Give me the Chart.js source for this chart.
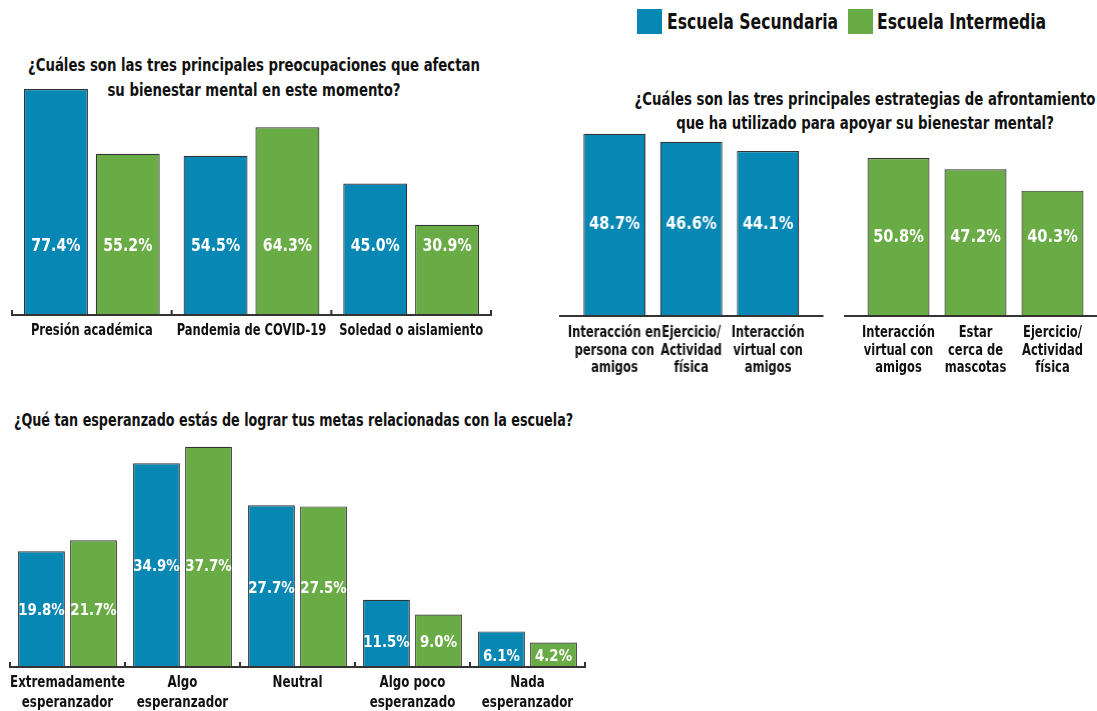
<!DOCTYPE html>
<html>
<head>
<meta charset="utf-8">
<script src="https://cdn.jsdelivr.net/npm/chart.js@4.4.0/dist/chart.umd.min.js"></script>
<style>
  body { margin: 0; width: 1097px; height: 711px; overflow: hidden; background: #fff; position: relative;
         font-family: 'DejaVu Sans Condensed', 'DejaVu Sans', sans-serif; font-weight: bold; color: #111; }
  .box { position: absolute; }
  .title { position: absolute; white-space: nowrap; font-size: 18px; line-height: 25px; }
  .center { transform: translateX(-50%) scaleX(0.82); transform-origin: 50% 0; text-align: center; }
  .sw { position: absolute; top: 9px; width: 25px; height: 25px; }
  .legend { position: absolute; top: 9px; font-size: 22px; line-height: 25px; white-space: nowrap;
            transform: scaleX(0.79); transform-origin: 0 0; }
</style>
</head>
<body>
<div class="sw" style="left:637px; background:#0787b3"></div>
<div class="legend" style="left:667px">Escuela Secundaria</div>
<div class="sw" style="left:848px; background:#69ab45"></div>
<div class="legend" style="left:877px">Escuela Intermedia</div>

<div class="title center" style="left:254px; top:52px">¿Cuáles son las tres principales preocupaciones que afectan<br>su bienestar mental en este momento?</div>
<div class="title center" style="left:865px; top:87px; line-height:24px">¿Cuáles son las tres principales estrategias de afrontamiento<br>que ha utilizado para apoyar su bienestar mental?</div>
<div class="title" style="left:14px; top:408px; font-size:17.5px; transform:scaleX(0.81); transform-origin:0 0">¿Qué tan esperanzado estás de lograr tus metas relacionadas con la escuela?</div>

<div class="box" id="worry"><canvas></canvas></div>
<div class="box" id="copingSec"><canvas></canvas></div>
<div class="box" id="copingInt"><canvas></canvas></div>
<div class="box" id="hope"><canvas></canvas></div>

<script>
const FONT = "'DejaVu Sans Condensed', 'DejaVu Sans', sans-serif";
const BLUE = '#0787b3';
const GREEN = '#69ab45';

// top left: worries
const worryLabels = ['Presión académica', 'Pandemia de COVID-19', 'Soledad o aislamiento'];
const worrySecundaria = [77.4, 54.5, 45.0];
const worryIntermedia = [55.2, 64.3, 30.9];

// top right: coping strategies (each school has its own top three)
const copingSecLabels = [['Interacción en', 'persona con', 'amigos'], ['Ejercicio/', 'Actividad', 'física'], ['Interacción', 'virtual con', 'amigos']];
const copingSecundaria = [48.7, 46.6, 44.1];
const copingIntLabels = [['Interacción', 'virtual con', 'amigos'], ['Estar', 'cerca de', 'mascotas'], ['Ejercicio/', 'Actividad', 'física']];
const copingIntermedia = [50.8, 47.2, 40.3];

// bottom: hope
const hopeLabels = [['Extremadamente', 'esperanzador'], ['Algo', 'esperanzador'], 'Neutral', ['Algo poco', 'esperanzado'], ['Nada', 'esperanzador']];
const hopeSecundaria = [19.8, 34.9, 27.7, 11.5, 6.1];
const hopeIntermedia = [21.7, 37.7, 27.5, 9.0, 4.2];

// no condensed bold face installed, so squeeze the text horizontally
function squeeze(ctx, text, x, y, sx) {
    ctx.save();
    ctx.translate(x, y);
    ctx.scale(sx, 1);
    ctx.fillText(text, 0, 0);
    ctx.restore();
}

// white percentage inside the bars
const barValues = {
    id: 'barValues',
    afterDatasetsDraw(chart, args, opts) {
        const ctx = chart.ctx;
        const y = chart.scales.y;
        ctx.save();
        ctx.fillStyle = '#fff';
        ctx.font = 'bold ' + opts.size + 'px ' + FONT;
        ctx.textAlign = 'center';
        ctx.textBaseline = 'alphabetic';
        chart.data.datasets.forEach((ds, di) => {
            chart.getDatasetMeta(di).data.forEach((bar, i) => {
                const py = y.getPixelForValue(opts.at(chart, i)) + opts.size * 0.36;
                squeeze(ctx, ds.data[i].toFixed(1) + '%', bar.x, py, 0.9);
            });
        });
        ctx.restore();
    }
};

// category labels, one or more lines under each group
const catLabels = {
    id: 'catLabels',
    afterDraw(chart, args, opts) {
        const ctx = chart.ctx;
        const xs = chart.scales.x;
        const bottom = chart.chartArea.bottom;
        ctx.save();
        ctx.fillStyle = '#111';
        ctx.font = 'bold ' + opts.size + 'px ' + FONT;
        ctx.textAlign = 'center';
        ctx.textBaseline = 'alphabetic';
        chart.data.labels.forEach((lab, i) => {
            [].concat(lab).forEach((line, j) => {
                squeeze(ctx, line, xs.getPixelForTick(i), bottom + opts.first + j * opts.step, 0.8);
            });
        });
        ctx.restore();
    }
};

// axis line, a bit longer than the plot, with small upward ticks between groups
const baseLine = {
    id: 'baseLine',
    afterDraw(chart, args, opts) {
        const a = chart.chartArea;
        const ctx = chart.ctx;
        const n = chart.data.labels.length;
        ctx.save();
        ctx.strokeStyle = '#333';
        ctx.lineWidth = 2;
        ctx.beginPath();
        ctx.moveTo(a.left - opts.extend, a.bottom);
        ctx.lineTo(a.right + opts.extend, a.bottom);
        if (opts.ticks) {
            for (let i = 0; i <= n; i++) {
                const x = a.left + (a.right - a.left) * i / n;
                ctx.moveTo(x, a.bottom + 1);
                ctx.lineTo(x, a.bottom - 5);
            }
        }
        ctx.stroke();
        ctx.restore();
    }
};

function makeChart(id, area, labels, datasets, cfg) {
    const pad = 40;
    const wrap = document.getElementById(id);
    const areaH = area.bottom - area.top;
    wrap.style.left = (area.left - pad) + 'px';
    wrap.style.top = area.top + 'px';
    wrap.style.width = (area.right - area.left + 2 * pad) + 'px';
    wrap.style.height = (areaH + cfg.axisH) + 'px';

    return new Chart(wrap.querySelector('canvas'), {
        type: 'bar',
        data: {
            labels: labels,
            datasets: datasets.map(d => ({
                data: d.data,
                backgroundColor: d.color,
                borderColor: '#333',
                borderWidth: 1.2,
                barPercentage: cfg.barPct,
                categoryPercentage: cfg.catPct
            }))
        },
        options: {
            responsive: true,
            maintainAspectRatio: false,
            animation: false,
            layout: { padding: { left: pad, right: pad, top: 0, bottom: 0 }, autoPadding: false },
            plugins: {
                legend: { display: false },
                tooltip: { enabled: false },
                barValues: { size: cfg.valueSize, at: cfg.valueAt },
                catLabels: { size: cfg.labelSize, first: cfg.first, step: cfg.step },
                baseLine: { extend: cfg.extend, ticks: cfg.ticks }
            },
            scales: {
                x: {
                    grid: { display: false, drawTicks: false },
                    border: { display: false },
                    ticks: { display: false },
                    afterFit(s) {
                        s.height = cfg.axisH;
                        s.paddingLeft = 0;
                        s.paddingRight = 0;
                    }
                },
                y: { display: false, min: 0, max: areaH / cfg.pxPer }
            }
        },
        plugins: [barValues, catLabels, baseLine]
    });
}

makeChart('worry', { left: 12, right: 491, top: 80, bottom: 315 }, worryLabels,
    [{ data: worrySecundaria, color: BLUE }, { data: worryIntermedia, color: GREEN }],
    { pxPer: 2.92, axisH: 40, labelSize: 16, first: 20, step: 18, barPct: 0.89, catPct: 0.9,
      valueSize: 17.5, valueAt: () => 24, extend: 0, ticks: true });

makeChart('copingSec', { left: 576, right: 805.5, top: 100, bottom: 316 }, copingSecLabels,
    [{ data: copingSecundaria, color: BLUE }],
    { pxPer: 3.74, axisH: 64, labelSize: 16, first: 21, step: 17.5, barPct: 0.81, catPct: 1,
      valueSize: 18, valueAt: () => 25.1, extend: 17, ticks: false });

makeChart('copingInt', { left: 859.5, right: 1090.5, top: 100, bottom: 316 }, copingIntLabels,
    [{ data: copingIntermedia, color: GREEN }],
    { pxPer: 3.11, axisH: 64, labelSize: 16, first: 21, step: 17.5, barPct: 0.805, catPct: 1,
      valueSize: 18, valueAt: () => 26, extend: 16, ticks: false });

makeChart('hope', { left: 10, right: 585, top: 430, bottom: 667 }, hopeLabels,
    [{ data: hopeSecundaria, color: BLUE }, { data: hopeIntermedia, color: GREEN }],
    { pxPer: 5.84, axisH: 44, labelSize: 16.5, first: 20, step: 20, barPct: 0.9, catPct: 0.905,
      valueSize: 16.5,
      valueAt: (chart, i) => Math.min(hopeSecundaria[i], hopeIntermedia[i]) / 2,
      extend: 0, ticks: true });
</script>
</body>
</html>
